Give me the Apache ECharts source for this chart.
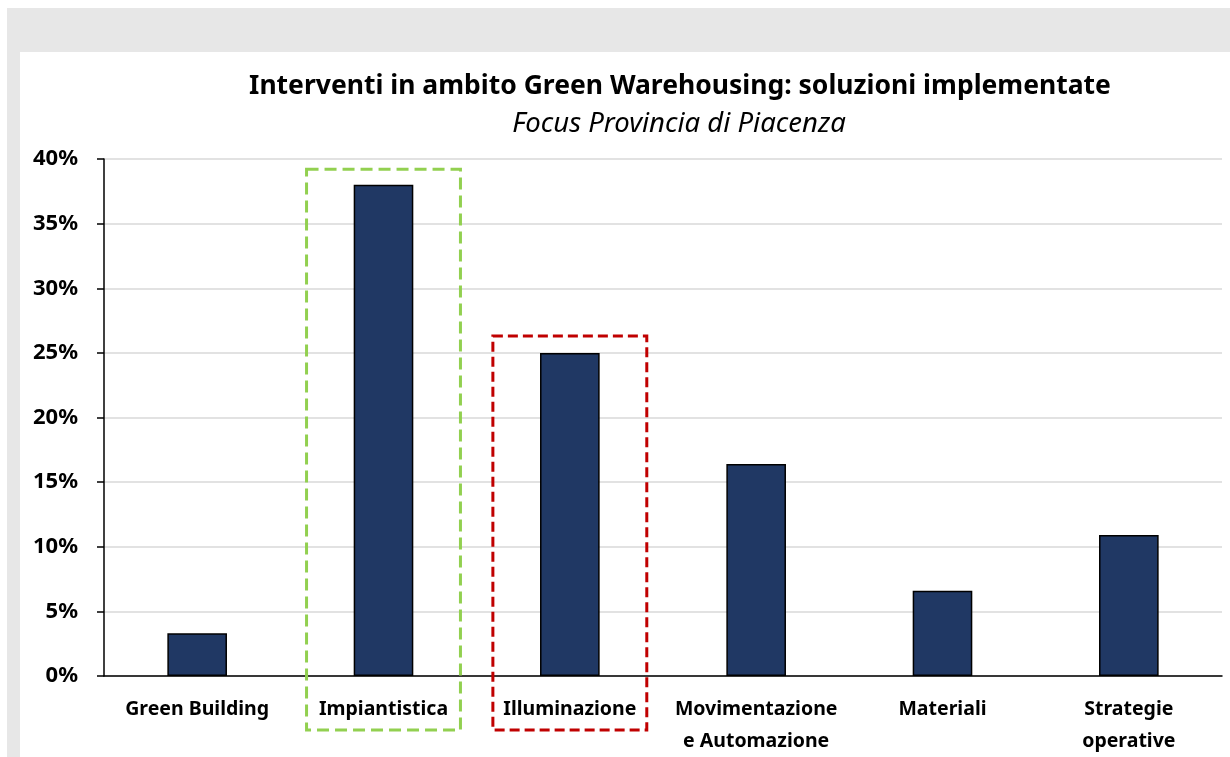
<!DOCTYPE html>
<html>
<head>
<meta charset="utf-8">
<script src="https://cdn.jsdelivr.net/npm/echarts@6/dist/echarts.min.js"></script>
<style>
html,body{margin:0;padding:0;background:#ffffff;}
#bg1{position:absolute;left:7px;top:8px;width:1223px;height:749px;background:#e7e7e7;}
#bg2{position:absolute;left:20px;top:52px;width:1210px;height:705px;background:#ffffff;}
#chart{position:absolute;left:0;top:0;width:1230px;height:757px;}
</style>
</head>
<body>
<div id="bg1"></div>
<div id="bg2"></div>
<div id="chart"></div>
<script>
const categories = ["Green Building", "Impiantistica", "Illuminazione", "Movimentazione\ne Automazione", "Materiali", "Strategie\noperative"];
const values = [3.3, 38.0, 25.0, 16.4, 6.6, 10.9];
const titleText = "Interventi in ambito Green Warehousing: soluzioni implementate";
const subtitleText = "Focus Provincia di Piacenza";
// highlight boxes: category index, top value (%), colour
const highlights = [
  { index: 1, top: 39.2, color: "#92d050" },
  { index: 2, top: 26.3, color: "#c00000" }
];

const FONT = "Noto Sans";
const chart = echarts.init(document.getElementById('chart'), null, { renderer: 'canvas' });
const option = {
  backgroundColor: 'transparent',
  animation: false,
  title: [
    { text: titleText, left: 675, textAlign: 'center', top: 68,
      textStyle: { fontFamily: FONT, fontWeight: 'bold', fontSize: 26.5, color: '#000' } },
    { text: subtitleText, left: 674, textAlign: 'center', top: 106,
      textStyle: { fontFamily: FONT, fontStyle: 'italic', fontWeight: 'normal', fontSize: 27.5, color: '#000' } }
  ],
  grid: { left: 104, right: 8, top: 159, bottom: 81, containLabel: false },
  xAxis: {
    type: 'category',
    data: categories,
    axisLine: { show: true, lineStyle: { color: '#000', width: 1.5 } },
    axisTick: { show: false },
    axisLabel: { interval: 0, margin: 17, fontFamily: FONT, fontWeight: 'bold', fontSize: 19.5, color: '#000', lineHeight: 32 }
  },
  yAxis: {
    type: 'value',
    min: 0, max: 40, interval: 5,
    axisLine: { show: true, lineStyle: { color: '#000', width: 1.5 } },
    axisTick: { show: true, length: 7, lineStyle: { color: '#000', width: 1.5 } },
    splitLine: { show: true, lineStyle: { color: '#d9d9d9', width: 1.5 } },
    axisLabel: { formatter: '{value}%', margin: 26, fontFamily: FONT, fontWeight: 'bold', fontSize: 22, color: '#000' }
  },
  series: [{
    type: 'bar',
    data: values,
    barWidth: '32%',
    itemStyle: { color: '#203864', borderColor: '#000', borderWidth: 1.5 }
  }]
};
chart.setOption(option);

function drawHighlights() {
  const p0 = chart.convertToPixel({ gridIndex: 0 }, [0, 0]);
  const p1 = chart.convertToPixel({ gridIndex: 0 }, [1, 0]);
  const catW = p1[0] - p0[0];
  const elements = highlights.map(h => {
    const c = chart.convertToPixel({ gridIndex: 0 }, [h.index, h.top]);
    const halfW = catW * 0.413;
    const bottom = p0[1] + 54;
    return {
      type: 'rect',
      shape: { x: c[0] - halfW, y: c[1], width: halfW * 2, height: bottom - c[1] },
      style: { fill: 'none', stroke: h.color, lineWidth: 3, lineDash: h.index === 1 ? [12, 6] : [10, 5] },
      z: 10
    };
  });
  chart.setOption({ graphic: elements });
}
drawHighlights();
</script>
</body>
</html>
